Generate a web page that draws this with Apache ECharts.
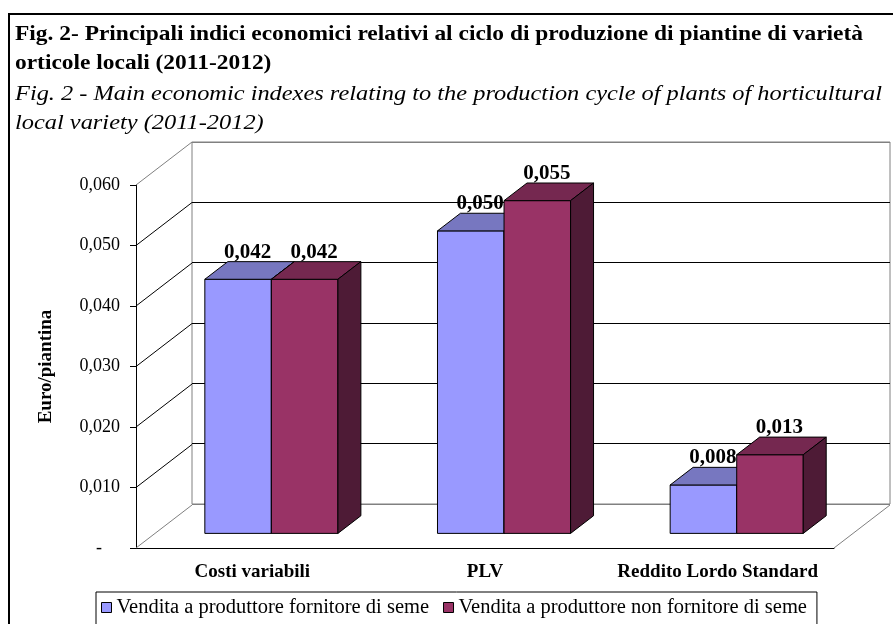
<!DOCTYPE html>
<html>
<head>
<meta charset="utf-8">
<script src="https://cdn.jsdelivr.net/npm/echarts@6/dist/echarts.min.js"></script>
<style>
  html, body { margin: 0; padding: 0; background: #fff; }
  #chart { width: 893px; height: 624px; }
</style>
</head>
<body>
<div id="chart"></div>
<script>
var categories = ['Costi variabili', 'PLV', 'Reddito Lordo Standard'];
var seriesNames = ['Vendita a produttore fornitore di seme', 'Vendita a produttore non fornitore di seme'];
var fornitore = [0.042, 0.050, 0.008];
var nonFornitore = [0.042, 0.055, 0.013];
var yTicks = [0, 0.01, 0.02, 0.03, 0.04, 0.05, 0.06];
var titleIt = ['Fig. 2- Principali indici economici relativi al ciclo di produzione di piantine di varietà',
    'orticole locali (2011-2012)'];
var titleEn = ['Fig. 2 - Main economic indexes relating to the production cycle of plants of horticultural',
    'local variety (2011-2012)'];

var SERIF = '"Liberation Serif", "Times New Roman", serif';
// depth of the 3d box (back wall offset), px
var DX = 56, DY = -43;
var FRONT = 0.34, BACK = 0.75, BAR_W = 0.286;
var colors = [
    {front: '#9999ff', top: '#7777c0', side: '#52528a'},
    {front: '#993366', top: '#752850', side: '#4e1b36'}
];

function fmt(v) {
    return v.toFixed(3).replace('.', ',');
}

// stretch the title lines to the width they have in the original
var ctx = document.createElement('canvas').getContext('2d');
function stretch(font, text, width) {
    ctx.font = font;
    return width / ctx.measureText(text).width;
}
var fontIt = 'bold 22px ' + SERIF, fontEn = 'italic 22px ' + SERIF;
var sIt = stretch(fontIt, titleIt[0], 848);
var sEn = stretch(fontEn, titleEn[0], 867);

function titleLine(text, font, y, s) {
    return {type: 'text', x: 15, y: y, scaleX: s,
        style: {text: text, font: font, fill: '#000', verticalAlign: 'top'}};
}

function barItem(sIdx) {
    return function (params, api) {
        var idx = api.value(0), v = api.value(1);
        var band = api.size([1, 0])[0];
        var w = band * BAR_W;
        var c = api.coord([idx, 0]);
        var yTop = api.coord([idx, v])[1];
        var yBot = c[1];
        var x0 = c[0] - w + sIdx * w;
        var fx = FRONT * DX, fy = FRONT * DY, bx = BACK * DX, by = BACK * DY;
        var col = colors[sIdx];
        var ls = {stroke: '#000', lineWidth: 1};
        return {
            type: 'group',
            children: [
                {type: 'rect', shape: {x: x0 + fx, y: yTop + fy, width: w, height: yBot - yTop},
                    style: Object.assign({fill: col.front}, ls)},
                {type: 'polygon', shape: {points: [[x0 + fx, yTop + fy], [x0 + w + fx, yTop + fy],
                    [x0 + w + bx, yTop + by], [x0 + bx, yTop + by]]},
                    style: Object.assign({fill: col.top}, ls)},
                {type: 'polygon', shape: {points: [[x0 + w + fx, yTop + fy], [x0 + w + bx, yTop + by],
                    [x0 + w + bx, yBot + by], [x0 + w + fx, yBot + fy]]},
                    style: Object.assign({fill: col.side}, ls)},
                {type: 'text', z2: 100, style: {
                    x: x0 + w / 2 + (fx + bx) / 2 - 2, y: yTop + by + 1,
                    text: fmt(v), align: 'center', verticalAlign: 'bottom',
                    font: 'bold 21px ' + SERIF, fill: '#000'}}
            ]
        };
    };
}

function wallItem(params, api) {
    var v = api.value(1);
    var band = api.size([1, 0])[0];
    var p = api.coord([0, v]);
    var x = p[0] - band / 2;
    var edge = (v === 0 || v === yTicks[yTicks.length - 1]);
    var children = [{type: 'line', shape: {x1: x, y1: p[1], x2: x + DX, y2: p[1] + DY},
        style: {stroke: edge ? '#808080' : '#000', lineWidth: 1}}];
    if (v === 0) {
        var xr = api.coord([categories.length - 1, 0])[0] + band / 2;
        children.push({type: 'line', shape: {x1: xr, y1: p[1], x2: xr + DX, y2: p[1] + DY},
            style: {stroke: '#808080', lineWidth: 1}});
    }
    return {type: 'group', children: children};
}

var chart = echarts.init(document.getElementById('chart'));
var option = {
    backgroundColor: '#fff',
    animation: false,
    graphic: [
        {type: 'polyline', shape: {points: [[9, 624], [9, 14], [893, 14]]},
            style: {stroke: '#000', lineWidth: 2, fill: null}},
        titleLine(titleIt[0], fontIt, 23, sIt),
        titleLine(titleIt[1], fontIt, 52, sIt),
        titleLine(titleEn[0], fontEn, 83, sEn),
        titleLine(titleEn[1], fontEn, 112, sEn)
    ],
    legend: {
        data: seriesNames,
        left: 96, top: 592,
        borderColor: '#000', borderWidth: 1,
        padding: [5, 10, 12, 5],
        itemGap: 14, itemWidth: 10, itemHeight: 10,
        icon: 'rect',
        itemStyle: {borderColor: '#000', borderWidth: 1},
        textStyle: {fontFamily: SERIF, fontSize: 20.5, color: '#000', padding: [0, 0, 0, 0]}
    },
    grid: [
        {left: 136, right: 59, top: 185, bottom: 76},
        {left: 192, right: 3, top: 142, bottom: 120, show: true, borderColor: '#808080', borderWidth: 1}
    ],
    xAxis: [
        {type: 'category', gridIndex: 0, data: categories,
            axisLine: {lineStyle: {color: '#000', width: 1}},
            axisTick: {length: 6, lineStyle: {color: '#000'}},
            axisLabel: {margin: 15, color: '#000', fontFamily: SERIF, fontSize: 19, fontWeight: 'bold', interval: 0}},
        {type: 'category', gridIndex: 1, data: categories, show: false}
    ],
    yAxis: [
        {type: 'value', gridIndex: 0, min: 0, max: 0.06, interval: 0.01,
            name: 'Euro/piantina', nameLocation: 'middle', nameGap: 80,
            nameTextStyle: {fontFamily: SERIF, fontSize: 19, fontWeight: 'bold', color: '#000'},
            axisLine: {show: true, lineStyle: {color: '#000', width: 1}},
            axisTick: {show: true, length: 6, lineStyle: {color: '#000'}},
            splitLine: {show: false},
            axisLabel: {margin: 16, color: '#000', fontFamily: SERIF, fontSize: 18,
                formatter: function (v) { return v === 0 ? '-    ' : fmt(v); }}},
        {type: 'value', gridIndex: 1, min: 0, max: 0.06, interval: 0.01,
            axisLine: {show: false}, axisTick: {show: false}, axisLabel: {show: false},
            splitLine: {show: true, lineStyle: {color: ['#808080', '#000', '#000', '#000', '#000', '#000', '#808080'], width: 1}}}
    ],
    series: [
        {type: 'custom', name: 'wall', xAxisIndex: 0, yAxisIndex: 0, z: 1, silent: true,
            renderItem: wallItem,
            data: yTicks.map(function (v) { return [0, v]; })},
        {type: 'custom', name: seriesNames[0], xAxisIndex: 0, yAxisIndex: 0, z: 2,
            itemStyle: {color: colors[0].front},
            renderItem: barItem(0),
            data: fornitore.map(function (v, i) { return [i, v]; })},
        {type: 'custom', name: seriesNames[1], xAxisIndex: 0, yAxisIndex: 0, z: 2,
            itemStyle: {color: colors[1].front},
            renderItem: barItem(1),
            data: nonFornitore.map(function (v, i) { return [i, v]; })}
    ]
};
chart.setOption(option);
</script>
</body>
</html>
